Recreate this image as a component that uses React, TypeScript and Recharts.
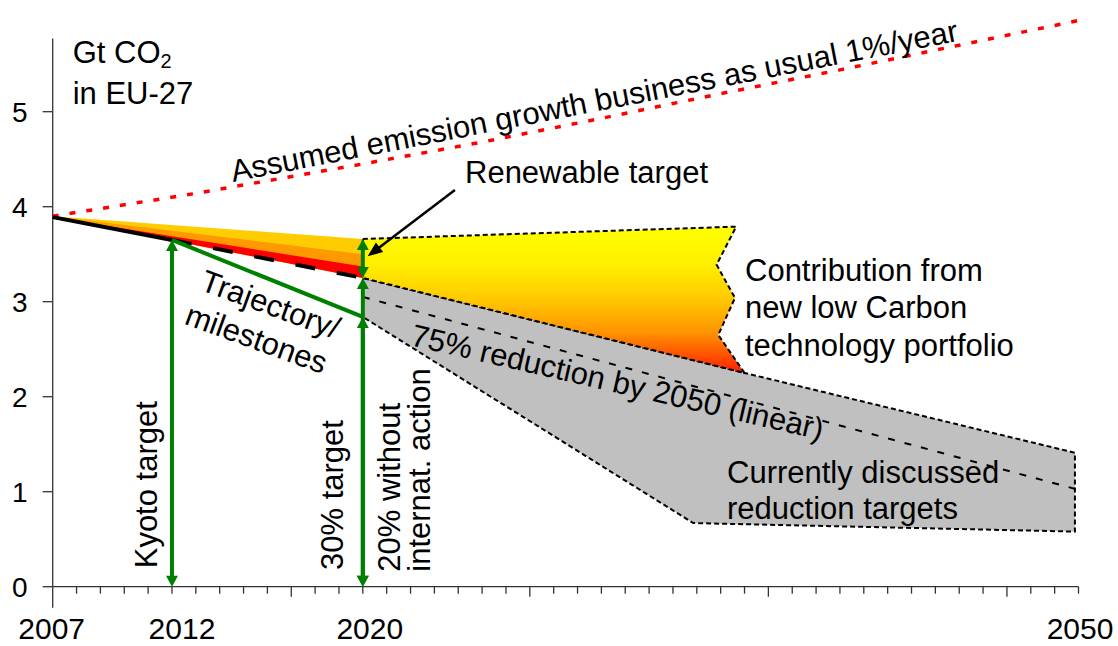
import React from 'react';
import { ComposedChart, XAxis, YAxis, Line, Area, ReferenceLine } from 'recharts';

const FONT = '"Liberation Sans", Arial, Helvetica, sans-serif';

// ---- axes ----
const axisYears: number[] = [];
for (let yr = 2007; yr <= 2050; yr++) axisYears.push(yr);
const labeledYears = [2007, 2012, 2020, 2050];
const majorTickYears = [2017, 2027, 2037, 2047];
const yTicks = [0, 1, 2, 3, 4, 5];
const yAxisTop = 5.77;

// ---- business as usual (+1%/year) ----
const bauYears = [2007, 2013, 2020, 2025, 2030, 2035, 2040, 2045, 2050];
const bauValues = [3.9, 4.14, 4.45, 4.68, 4.93, 5.19, 5.44, 5.7, 5.96];

// ---- emissions path (solid to 2012, dashed to 2020) ----
const baseSolidYears = [2007, 2012];
const baseSolidValues = [3.89, 3.65];
const baseDashYears = [2012, 2020];
const baseDashValues = [3.65, 3.25];

// ---- coloured wedge above the path ----
const wedgeYears = [2007, 2020];
const wedgeBottom = [3.89, 3.25];
const redTop = [3.89, 3.37];
const orangeTop = [3.9, 3.5];
const goldTop = [3.9, 3.66];

// ---- trajectory / milestones ----
const trajYears = [2012, 2020];
const trajValues = [3.65, 2.84];

// ---- 75% reduction by 2050 (linear) ----
const linYears = [2020, 2050];
const linValues = [3.05, 1.02];

// ---- new low carbon technology contribution (polygon) ----
const techYears = [2020, 2035.65, 2034.83, 2035.6, 2034.9, 2036.0, 2020];
const techValues = [3.66, 3.79, 3.39, 3.04, 2.65, 2.25, 3.25];

// ---- currently discussed reduction targets (polygon) ----
const greyYears = [2020, 2036.0, 2049.85, 2049.85, 2033.85, 2020];
const greyValues = [3.25, 2.25, 1.41, 0.58, 0.67, 2.84];

// ---- arrows ----
const kyotoYears = [2012, 2012];
const kyotoValues = [0, 3.65];
const target30Years = [2020, 2020];
const target30Values = [0, 2.84];
const target20Years = [2020, 2020];
const target20Values = [0, 3.25];
const renewYears = [2020, 2020];
const renewValues = [3.25, 3.66];
const pointerYears = [2023.86, 2020.2];
const pointerValues = [4.176, 3.478];

const rows = (xs: number[], ys: number[]) => xs.map((x, i) => ({ x, y: ys[i] }));
const rangeRows = (xs: number[], lo: number[], hi: number[]) =>
  xs.map((x, i) => ({ x, r: [lo[i], hi[i]] }));

const GREEN = '#008000';

function pathOf(points: any[], close: boolean) {
  return (
    points.map((p: any, i: number) => `${i ? 'L' : 'M'}${p.x},${p.y}`).join(' ') +
    (close ? ' Z' : '')
  );
}

function polygonDot(fill: string, stroke: string, dash: string) {
  return (props: any) => {
    const { index, points } = props;
    if (index !== 0 || !points || points.length < 2) return <g key={`pd-${index}`} />;
    return (
      <path
        key="poly"
        d={pathOf(points, true)}
        fill={fill}
        stroke={stroke}
        strokeWidth={2}
        strokeDasharray={dash}
      />
    );
  };
}

function polylineDot(stroke: string, width: number, dash: string) {
  return (props: any) => {
    const { index, points } = props;
    if (index !== 0 || !points || points.length < 2) return <g key={`pl-${index}`} />;
    return (
      <path
        key="pline"
        d={pathOf(points, false)}
        fill="none"
        stroke={stroke}
        strokeWidth={width}
        strokeDasharray={dash}
      />
    );
  };
}

function arrowDot(
  color: string,
  width: number,
  headLen: number,
  headW: number,
  startHead: boolean,
  endHead: boolean
) {
  return (props: any) => {
    const { index, points } = props;
    if (index !== 0 || !points || points.length < 2) return <g key={`ad-${index}`} />;
    const a = points[0];
    const b = points[points.length - 1];
    const dx = b.x - a.x;
    const dy = b.y - a.y;
    const L = Math.hypot(dx, dy) || 1;
    const ux = dx / L;
    const uy = dy / L;
    const px = -uy;
    const py = ux;
    const s = startHead ? headLen * 0.7 : 0;
    const e = endHead ? headLen * 0.7 : 0;
    const head = (tx: number, ty: number, dirx: number, diry: number) => {
      const bx = tx - dirx * headLen;
      const by = ty - diry * headLen;
      return `${tx},${ty} ${bx + (px * headW) / 2},${by + (py * headW) / 2} ${bx - (px * headW) / 2},${by - (py * headW) / 2}`;
    };
    return (
      <g key="arrow">
        <line
          x1={a.x + ux * s}
          y1={a.y + uy * s}
          x2={b.x - ux * e}
          y2={b.y - uy * e}
          stroke={color}
          strokeWidth={width}
        />
        {startHead && <polygon points={head(a.x, a.y, -ux, -uy)} fill={color} />}
        {endHead && <polygon points={head(b.x, b.y, ux, uy)} fill={color} />}
      </g>
    );
  };
}

const tickNudge: Record<number, number> = { 2007: -1, 2012: 10, 2020: 7, 2050: 1.5 };

const XTick = (props: any) => {
  const { x, y, payload } = props;
  const v = payload.value as number;
  const len = v === 2007 ? 21 : majorTickYears.includes(v) ? 10 : 7;
  return (
    <g>
      <line x1={x} x2={x} y1={y} y2={y + len} stroke="#333" strokeWidth={1.3} />
      {labeledYears.includes(v) && (
        <text
          x={x + (tickNudge[v] || 0)}
          y={y + 52.5}
          textAnchor="middle"
          fontSize={30}
          fontFamily={FONT}
          fill="#000"
        >
          {v}
        </text>
      )}
    </g>
  );
};

export default function App() {
  const txt = { fontSize: 31, fill: '#000' } as const;
  return (
    <div style={{ position: 'relative', width: 1118, height: 646, background: '#fff' }}>
      <style>{'body{margin:0;overflow:hidden;background:#fff}'}</style>
      <ComposedChart
        width={1118}
        height={646}
        margin={{ top: 11.95, right: 39.5, bottom: 0, left: 0 }}
      >
        <defs>
          <linearGradient id="techGrad" x1="0" y1="0" x2="0" y2="1">
            <stop offset="0" stopColor="#FFFF00" />
            <stop offset="0.25" stopColor="#FFF000" />
            <stop offset="0.5" stopColor="#FFC800" />
            <stop offset="0.72" stopColor="#FF9400" />
            <stop offset="1" stopColor="#FF1E00" />
          </linearGradient>
        </defs>
        <XAxis
          type="number"
          dataKey="x"
          domain={[2007, 2050]}
          ticks={axisYears}
          interval={0}
          tick={<XTick />}
          tickLine={false}
          tickSize={0}
          tickMargin={0}
          height={59.3}
          axisLine={{ stroke: '#333', strokeWidth: 1.3 }}
          allowDecimals={false}
        />
        <YAxis
          type="number"
          domain={[0, 6.05]}
          ticks={yTicks}
          width={52.7}
          axisLine={false}
          tickLine={{ stroke: '#333', strokeWidth: 1.3 }}
          tickSize={10}
          tickMargin={15}
          tick={{ fontSize: 28, fill: '#000', fontFamily: FONT }}
        />
        <ReferenceLine
          segment={[
            { x: 2007, y: 0 },
            { x: 2007, y: yAxisTop },
          ]}
          stroke="#333"
          strokeWidth={1.3}
          ifOverflow="visible"
        />

        <Area
          data={rangeRows(wedgeYears, wedgeBottom, goldTop)}
          dataKey="r"
          type="linear"
          stroke="none"
          fill="#FFCC00"
          fillOpacity={1}
          isAnimationActive={false}
        />
        <Area
          data={rangeRows(wedgeYears, wedgeBottom, orangeTop)}
          dataKey="r"
          type="linear"
          stroke="none"
          fill="#FF9900"
          fillOpacity={1}
          isAnimationActive={false}
        />
        <Area
          data={rangeRows(wedgeYears, wedgeBottom, redTop)}
          dataKey="r"
          type="linear"
          stroke="none"
          fill="#FF0000"
          fillOpacity={1}
          isAnimationActive={false}
        />

        <Line
          data={rows(bauYears, bauValues)}
          dataKey="y"
          type="linear"
          stroke="#FF0000"
          strokeWidth={3.5}
          strokeDasharray="6 11"
          dot={false}
          activeDot={false}
          isAnimationActive={false}
        />
        <Line
          data={rows(baseSolidYears, baseSolidValues)}
          dataKey="y"
          type="linear"
          stroke="#000"
          strokeWidth={4}
          dot={false}
          activeDot={false}
          isAnimationActive={false}
        />
        <Line
          data={rows(baseDashYears, baseDashValues)}
          dataKey="y"
          type="linear"
          stroke="#000"
          strokeWidth={4}
          strokeDasharray="20 22"
          dot={false}
          activeDot={false}
          isAnimationActive={false}
        />
        <Line
          data={rows(trajYears, trajValues)}
          dataKey="y"
          type="linear"
          stroke={GREEN}
          strokeWidth={4}
          dot={false}
          activeDot={false}
          isAnimationActive={false}
        />

        <Line
          data={rows(greyYears, greyValues)}
          dataKey="y"
          stroke="none"
          dot={polygonDot('#C0C0C0', '#000', '5 3')}
          activeDot={false}
          isAnimationActive={false}
        />
        <Line
          data={rows(techYears, techValues)}
          dataKey="y"
          stroke="none"
          dot={polygonDot('url(#techGrad)', '#000', '5 3')}
          activeDot={false}
          isAnimationActive={false}
        />
        <Line
          data={rows(linYears, linValues)}
          dataKey="y"
          stroke="none"
          dot={polylineDot('#000', 2, '7 10')}
          activeDot={false}
          isAnimationActive={false}
        />
        <Line
          data={rows(kyotoYears, kyotoValues)}
          dataKey="y"
          stroke="none"
          dot={arrowDot(GREEN, 4, 11, 12, true, true)}
          activeDot={false}
          isAnimationActive={false}
        />
        <Line
          data={rows(target20Years, target20Values)}
          dataKey="y"
          stroke="none"
          dot={arrowDot(GREEN, 4, 11, 12, true, true)}
          activeDot={false}
          isAnimationActive={false}
        />
        <Line
          data={rows(target30Years, target30Values)}
          dataKey="y"
          stroke="none"
          dot={arrowDot(GREEN, 4, 11, 12, true, true)}
          activeDot={false}
          isAnimationActive={false}
        />
        <Line
          data={rows(renewYears, renewValues)}
          dataKey="y"
          stroke="none"
          dot={arrowDot(GREEN, 4, 11, 12, true, true)}
          activeDot={false}
          isAnimationActive={false}
        />
        <Line
          data={rows(pointerYears, pointerValues)}
          dataKey="y"
          stroke="none"
          dot={arrowDot('#000', 2.5, 15, 12, false, true)}
          activeDot={false}
          isAnimationActive={false}
        />
      </ComposedChart>

      <svg
        width={1118}
        height={646}
        style={{ position: 'absolute', left: 0, top: 0, pointerEvents: 'none' }}
        fontFamily={FONT}
      >
        <text x={72.7} y={63.3} {...txt}>
          Gt CO<tspan fontSize={20} dy={5}>2</tspan>
        </text>
        <text x={72.7} y={104.3} {...txt}>
          in EU-27
        </text>
        <text
          transform="translate(233,182) rotate(-11)"
          fontSize={31}
          fill="#000"
          textLength={740}
          lengthAdjust="spacingAndGlyphs"
        >
          Assumed emission growth business as usual 1%/year
        </text>
        <text x={465} y={182.7} {...txt}>
          Renewable target
        </text>
        <text x={745} y={280.7} {...txt}>
          Contribution from
        </text>
        <text x={745} y={318.3} {...txt}>
          new low Carbon
        </text>
        <text x={745} y={355.5} {...txt}>
          technology portfolio
        </text>
        <text x={727} y={483.3} {...txt}>
          Currently discussed
        </text>
        <text x={727} y={519.3} {...txt}>
          reduction targets
        </text>
        <text transform="translate(409.5,345) rotate(13)" {...txt}>
          75% reduction by 2050 (linear)
        </text>
        <g transform="translate(198.7,289.5) rotate(20)">
          <text x={0} y={0} {...txt}>
            Trajectory/
          </text>
          <text x={-3} y={37.2} {...txt}>
            milestones
          </text>
        </g>
        <text transform="translate(156.7,568.3) rotate(-90)" {...txt}>
          Kyoto target
        </text>
        <text transform="translate(343.3,570) rotate(-90)" {...txt}>
          30% target
        </text>
        <text transform="translate(400,571.7) rotate(-90)" {...txt}>
          20% without
        </text>
        <text transform="translate(430,571.7) rotate(-90)" {...txt}>
          internat. action
        </text>
      </svg>
    </div>
  );
}
